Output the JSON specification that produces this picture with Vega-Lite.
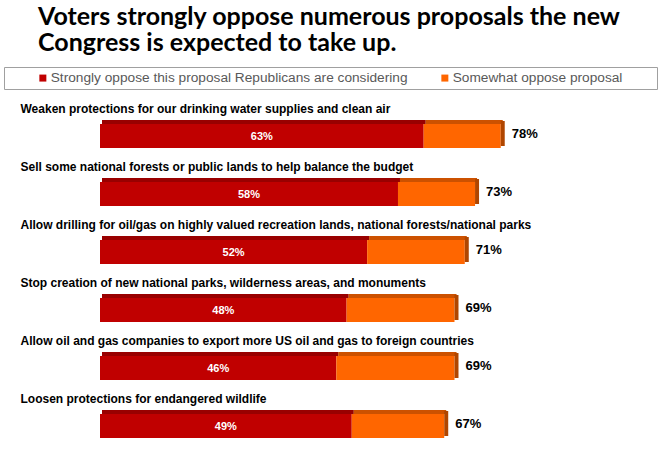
{
  "$schema": "https://vega.github.io/schema/vega-lite/v6.json",
  "width": 560,
  "height": 348,
  "autosize": {"type": "none"},
  "padding": {"left": 100, "top": 95, "right": 0, "bottom": 6},
  "background": "white",
  "config": {"view": {"stroke": null}, "font": "Liberation Sans"},
  "title": {
    "text": ["Voters strongly oppose numerous proposals the new", "Congress is expected to take up."],
    "anchor": "start",
    "frame": "group",
    "dx": -62,
    "offset": 11,
    "font": "Lato",
    "fontSize": 25,
    "fontWeight": "bold",
    "color": "#000000",
    "lineHeight": 26
  },
  "datasets": {
    "bars": [
      {"proposal": "Weaken protections for our drinking water supplies and clean air", "series": "Strongly oppose this proposal Republicans are considering", "value": 0.63, "rank": 1},
      {"proposal": "Weaken protections for our drinking water supplies and clean air", "series": "Somewhat oppose proposal", "value": 0.15, "rank": 2},
      {"proposal": "Sell some national forests or public lands to help balance the budget", "series": "Strongly oppose this proposal Republicans are considering", "value": 0.58, "rank": 1},
      {"proposal": "Sell some national forests or public lands to help balance the budget", "series": "Somewhat oppose proposal", "value": 0.15, "rank": 2},
      {"proposal": "Allow drilling for oil/gas on highly valued recreation lands, national forests/national parks", "series": "Strongly oppose this proposal Republicans are considering", "value": 0.52, "rank": 1},
      {"proposal": "Allow drilling for oil/gas on highly valued recreation lands, national forests/national parks", "series": "Somewhat oppose proposal", "value": 0.19, "rank": 2},
      {"proposal": "Stop creation of new national parks, wilderness areas, and monuments", "series": "Strongly oppose this proposal Republicans are considering", "value": 0.48, "rank": 1},
      {"proposal": "Stop creation of new national parks, wilderness areas, and monuments", "series": "Somewhat oppose proposal", "value": 0.21, "rank": 2},
      {"proposal": "Allow oil and gas companies to export more US oil and gas to foreign countries", "series": "Strongly oppose this proposal Republicans are considering", "value": 0.46, "rank": 1},
      {"proposal": "Allow oil and gas companies to export more US oil and gas to foreign countries", "series": "Somewhat oppose proposal", "value": 0.23, "rank": 2},
      {"proposal": "Loosen protections for endangered wildlife", "series": "Strongly oppose this proposal Republicans are considering", "value": 0.49, "rank": 1},
      {"proposal": "Loosen protections for endangered wildlife", "series": "Somewhat oppose proposal", "value": 0.18, "rank": 2}
    ],
    "totals": [
      {"proposal": "Weaken protections for our drinking water supplies and clean air", "strongly": 0.63, "total": 0.78},
      {"proposal": "Sell some national forests or public lands to help balance the budget", "strongly": 0.58, "total": 0.73},
      {"proposal": "Allow drilling for oil/gas on highly valued recreation lands, national forests/national parks", "strongly": 0.52, "total": 0.71},
      {"proposal": "Stop creation of new national parks, wilderness areas, and monuments", "strongly": 0.48, "total": 0.69},
      {"proposal": "Allow oil and gas companies to export more US oil and gas to foreign countries", "strongly": 0.46, "total": 0.69},
      {"proposal": "Loosen protections for endangered wildlife", "strongly": 0.49, "total": 0.67}
    ]
  },
  "encoding": {
    "y": {
      "field": "proposal",
      "type": "nominal",
      "sort": null,
      "scale": {"paddingInner": 0, "paddingOuter": 0},
      "axis": {
        "title": null,
        "domain": false,
        "ticks": false,
        "tickSize": 0,
        "grid": false,
        "labelAlign": "left",
        "labelBaseline": "alphabetic",
        "labelPadding": 80,
        "labelOffset": -11,
        "labelFontSize": 12,
        "labelFontWeight": "bold",
        "labelColor": "#000000",
        "labelFont": "Liberation Sans",
        "labelLimit": 700
      }
    }
  },
  "layer": [
    {
      "data": {"name": "bars"},
      "mark": {"type": "bar", "height": 24, "yOffset": 12},
      "encoding": {
        "x": {"field": "value", "type": "quantitative", "stack": "zero", "scale": {"domain": [0, 1.09], "nice": false}, "axis": null},
        "color": {
          "field": "series",
          "type": "nominal",
          "scale": {"domain": ["Strongly oppose this proposal Republicans are considering", "Somewhat oppose proposal"], "range": ["#C00000", "#FF6600"]},
          "legend": {
            "orient": "none",
            "legendX": -96,
            "legendY": -28,
            "direction": "horizontal",
            "title": " ",
            "titleOrient": "left",
            "titlePadding": 28,
            "titleFontSize": 11,
            "strokeColor": "#a0a0a0",
            "padding": 4,
            "symbolType": "square",
            "symbolSize": 49,
            "symbolStrokeWidth": 0,
            "labelFontSize": 13.7,
            "labelColor": "#595959",
            "labelFont": "Liberation Sans",
            "labelLimit": 500,
            "labelOffset": 1,
            "columnPadding": 0,
            "labelExpr": "datum.label + '\u2800\u2800\u2800'"
          }
        },
        "order": {"field": "rank", "type": "quantitative"}
      }
    },
    {
      "data": {"name": "bars"},
      "mark": {"type": "bar", "height": 4, "yOffset": -2, "xOffset": 2},
      "encoding": {
        "x": {"field": "value", "type": "quantitative", "stack": "zero"},
        "color": {"field": "series", "type": "nominal"},
        "order": {"field": "rank", "type": "quantitative"}
      }
    },
    {
      "data": {"name": "totals"},
      "mark": {"type": "bar", "height": 4, "yOffset": -2, "xOffset": 2, "color": "#000000", "opacity": 0.2},
      "encoding": {
        "x": {"field": "total", "type": "quantitative"}
      }
    },
    {
      "data": {"name": "totals"},
      "mark": {"type": "bar", "height": 25, "yOffset": 9.5, "x2Offset": 4, "color": "#B04600"},
      "encoding": {
        "x": {"field": "total", "type": "quantitative"},
        "x2": {"field": "total"}
      }
    },
    {
      "data": {"name": "totals"},
      "transform": [{"calculate": "datum.strongly / 2", "as": "mid"}],
      "mark": {"type": "text", "color": "#FFFFFF", "fontSize": 11, "fontWeight": "bold", "baseline": "middle", "align": "center", "dy": 13, "font": "Liberation Sans"},
      "encoding": {
        "x": {"field": "mid", "type": "quantitative"},
        "text": {"field": "strongly", "type": "quantitative", "format": ".0%"}
      }
    },
    {
      "data": {"name": "totals"},
      "mark": {"type": "text", "color": "#000000", "fontSize": 13, "fontWeight": "bold", "baseline": "middle", "align": "left", "dx": 11, "dy": 10, "font": "Liberation Sans"},
      "encoding": {
        "x": {"field": "total", "type": "quantitative"},
        "text": {"field": "total", "type": "quantitative", "format": ".0%"}
      }
    }
  ]
}
